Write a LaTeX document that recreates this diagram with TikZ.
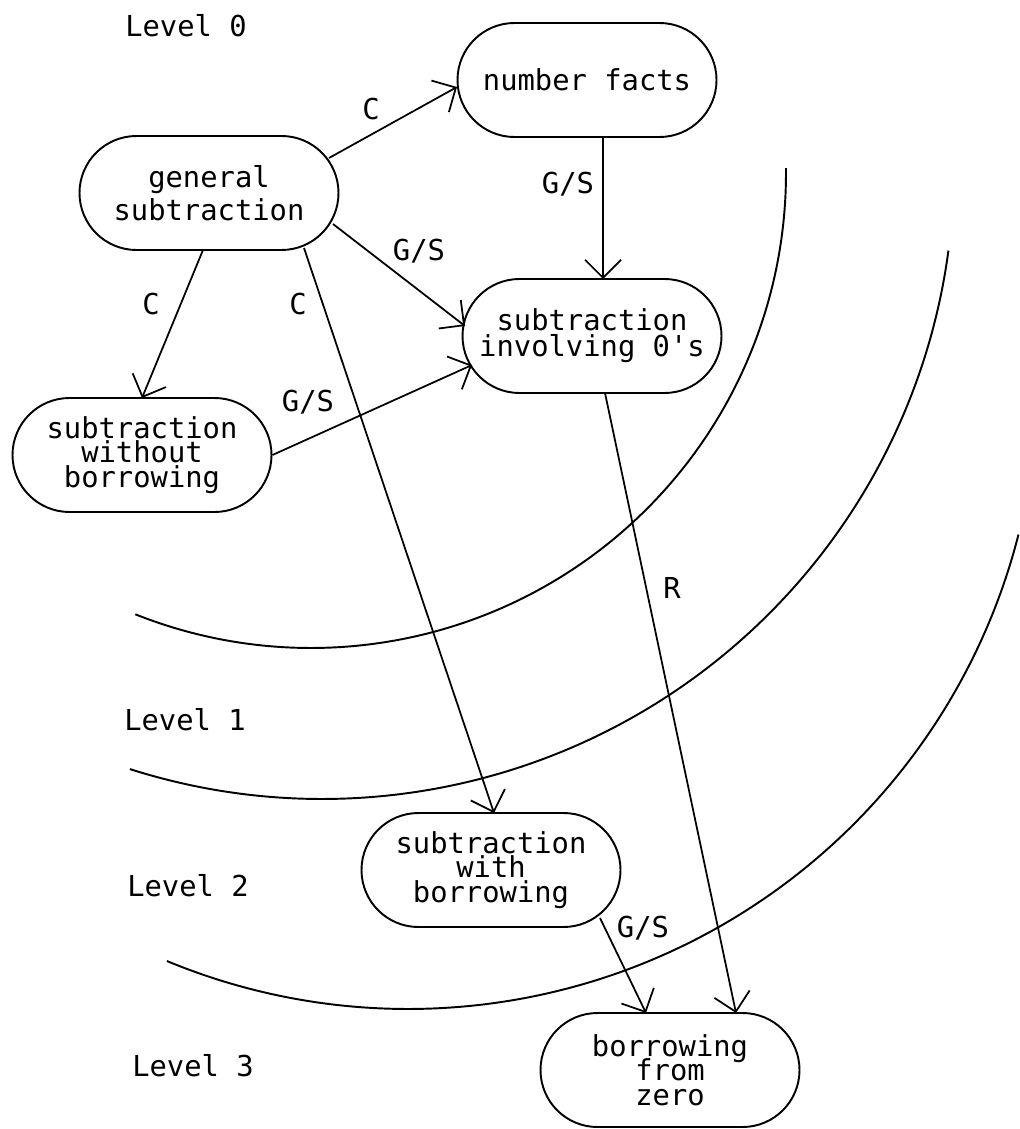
\documentclass[tikz,border=0pt]{standalone}
\usepackage{fontspec}
\newfontfamily\plotfont{DejaVu Sans Mono}
\usetikzlibrary{arrows.meta,shapes.misc,calc}
\begin{document}
\begin{tikzpicture}[
  box/.style={draw, line width=0.55pt, rounded rectangle,
    minimum width=2.59cm, minimum height=1.14cm, inner sep=0pt,
    align=center, font=\plotfont\fontsize{8.2}{6.9}\selectfont,
    execute at begin node={\lineskiplimit=-20pt\lineskip=0pt}},
  link/.style={line width=0.5pt, -{Straight Barb[length=1.8mm,width=3.6mm]}},
  lbl/.style={font=\plotfont\fontsize{8.2}{8.2}\selectfont, inner sep=0pt},
  ring/.style={line width=0.55pt},
]
\useasboundingbox (0,0) rectangle (10.19,-11.29);

% level boundaries
\draw[ring] (3.11,-1.73) ++(248.3:4.75) arc[start angle=248.3, end angle=360.6, radius=4.75];
\draw[ring] (3.22,-1.67) ++(252.3:6.32) arc[start angle=252.3, end angle=352.4, radius=6.32];
\draw[ring] (4.08,-3.79) ++(247.5:6.30) arc[start angle=247.5, end angle=345.7, radius=6.30];

% level names
\node[lbl] (lv0) at (1.86,-0.26) {Level 0};
\node[lbl] (lv1) at (1.85,-7.20) {Level 1};
\node[lbl] (lv2) at (1.88,-8.86) {Level 2};
\node[lbl] (lv3) at (1.93,-10.66) {Level 3};

% skills
\node[box] (gen)  at (2.09,-1.93) {general\\[0.09cm]subtraction};
\node[box] (nf)   at (5.87,-0.80) {number facts};
\node[box] (inv)  at (5.92,-3.36) {subtraction\\[0.02cm]involving 0's};
\node[box] (wo)   at (1.42,-4.55) {subtraction\\without\\borrowing};
\node[box] (wi)   at (4.91,-8.70) {subtraction\\with\\borrowing};
\node[box] (zero) at (6.70,-10.70) {borrowing\\from\\zero};

% links between skills
\draw[link] ($(gen)+(1.20,0.35)$) -- ($(nf)+(-1.30,-0.07)$);
\node[lbl] (l1) at (3.71,-1.09) {C};

\draw[link] ($(nf)+(0.16,-0.57)$) -- ($(inv)+(0.11,0.57)$);
\node[lbl] (l2) at (5.68,-1.84) {G/S};

\draw[link] ($(gen)+(1.24,-0.31)$) -- ($(inv)+(-1.27,0.10)$);
\node[lbl] (l3) at (4.19,-2.51) {G/S};

\draw[link] ($(gen)+(-0.06,-0.57)$) -- ($(wo)+(0,0.57)$);
\node[lbl] (l4) at (1.51,-3.04) {C};

\draw[link] ($(gen)+(0.95,-0.55)$) -- ($(wi)+(0.03,0.57)$);
\node[lbl] (l5) at (2.98,-3.04) {C};

\draw[link] (wo.east) -- ($(inv)+(-1.20,-0.29)$);
\node[lbl] (l6) at (3.08,-4.02) {G/S};

\draw[link] ($(inv)+(0.13,-0.57)$) -- ($(zero)+(0.66,0.57)$);
\node[lbl] (l7) at (6.72,-5.88) {R};

\draw[link] ($(wi)+(1.09,-0.48)$) -- ($(zero)+(-0.24,0.57)$);
\node[lbl] (l8) at (6.43,-9.28) {G/S};
\end{tikzpicture}
\end{document}
